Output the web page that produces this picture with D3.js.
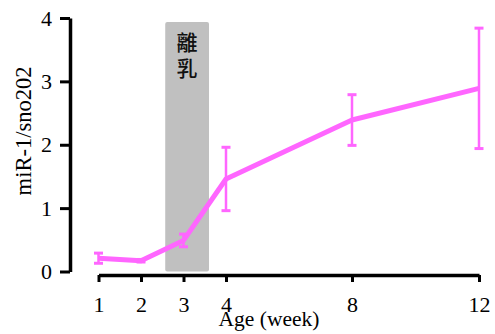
<!DOCTYPE html>
<html>
<head>
<meta charset="utf-8">
<script src="https://cdn.jsdelivr.net/npm/d3@7"></script>
<style>
  html, body { margin: 0; padding: 0; background: #fff; }
  svg { display: block; }
</style>
</head>
<body>
<svg id="chart" width="495" height="334"></svg>
<script>
// miR-1 expression relative to sno202 across postnatal age
const ages = [1, 2, 3, 4, 8, 12];
const means = [0.21, 0.17, 0.49, 1.46, 2.39, 2.89];
const errors = [0.08, 0.02, 0.10, 0.50, 0.40, 0.95];
const xTicks = [1, 2, 3, 4, 8, 12];
const yTicks = [0, 1, 2, 3, 4];
const weaning = [2.57, 3.6];
const weaningLabel = "離乳";

const svg = d3.select("#chart");
const serif = "'Liberation Serif', 'Times New Roman', serif";
const pink = "#ff66ff";

// x axis is piecewise: early weeks spread out, later weeks compressed
const x = d3.scaleLinear().domain([1, 4, 8, 12]).range([98.5, 226, 352, 479]);
const y = d3.scaleLinear().domain([0, 4]).range([271.5, 18]);

// weaning period band
svg.append("rect")
  .attr("x", x(weaning[0]))
  .attr("y", 22)
  .attr("width", x(weaning[1]) - x(weaning[0]))
  .attr("height", y(0) - 22)
  .attr("rx", 2)
  .attr("fill", "#c0c0c0");

// band label, set vertically
svg.append("text")
  .attr("x", (x(weaning[0]) + x(weaning[1])) / 2)
  .attr("y", 32)
  .attr("writing-mode", "vertical-rl")
  .attr("text-anchor", "start")
  .attr("letter-spacing", 5)
  .attr("font-family", "'Noto Sans CJK TC', 'Noto Sans CJK SC', sans-serif")
  .attr("font-size", 21)
  .attr("font-weight", 500)
  .attr("fill", "#111")
  .text(weaningLabel);

// y axis
const yAxis = svg.append("g")
  .attr("transform", "translate(70,0)")
  .call(d3.axisLeft(y).tickValues(yTicks).tickFormat(d3.format("d")).tickSize(10).tickSizeOuter(0).tickPadding(8));
yAxis.select(".domain").attr("stroke", "#000").attr("stroke-width", 3.5);
yAxis.selectAll(".tick line").attr("stroke", "#000").attr("stroke-width", 3);
yAxis.selectAll(".tick text").attr("font-family", serif).attr("font-size", 22).attr("fill", "#000");

// x axis
const xAxis = svg.append("g")
  .attr("transform", "translate(0,275)")
  .call(d3.axisBottom(x).tickValues(xTicks).tickFormat(d3.format("d")).tickSize(7).tickSizeOuter(0).tickPadding(14));
xAxis.select(".domain").attr("stroke", "#000").attr("stroke-width", 3.5);
xAxis.selectAll(".tick line").attr("stroke", "#000").attr("stroke-width", 3);
xAxis.selectAll(".tick text").attr("font-family", serif).attr("font-size", 22).attr("fill", "#000");

// axis titles
svg.append("text")
  .attr("x", 269)
  .attr("y", 326)
  .attr("text-anchor", "middle")
  .attr("font-family", serif)
  .attr("font-size", 21.5)
  .attr("fill", "#000")
  .text("Age (week)");

svg.append("text")
  .attr("transform", "translate(31,131) rotate(-90)")
  .attr("text-anchor", "middle")
  .attr("font-family", serif)
  .attr("font-size", 22.5)
  .attr("fill", "#000")
  .text("miR-1/sno202");

const points = ages.map((a, i) => ({ age: a, mean: means[i], err: errors[i] }));

// error bars
const eb = svg.append("g").attr("stroke", pink).attr("stroke-width", 2.5).attr("fill", "none");
points.forEach(p => {
  const cx = x(p.age);
  eb.append("line").attr("x1", cx).attr("x2", cx).attr("y1", y(p.mean + p.err)).attr("y2", y(p.mean - p.err));
  [p.mean + p.err, p.mean - p.err].forEach(v => {
    eb.append("line").attr("x1", cx - 4.5).attr("x2", cx + 4.5).attr("y1", y(v)).attr("y2", y(v)).attr("stroke-width", 3);
  });
});

// mean line
svg.append("path")
  .datum(points)
  .attr("fill", "none")
  .attr("stroke", pink)
  .attr("stroke-width", 5)
  .attr("stroke-linejoin", "round")
  .attr("d", d3.line().x(d => x(d.age)).y(d => y(d.mean)));
</script>
</body>
</html>
